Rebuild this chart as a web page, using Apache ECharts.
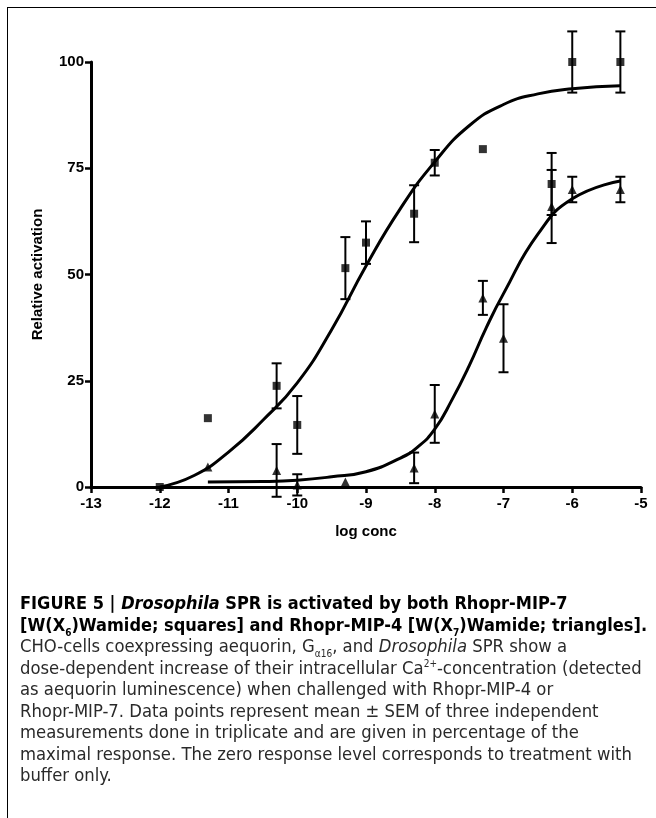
<!DOCTYPE html>
<html lang="en">
<head>
    <meta charset="UTF-8">
    <title>Drosophila SPR dose response</title>
    <script src="https://cdn.jsdelivr.net/npm/echarts@6/dist/echarts.min.js"></script>
    <style>
        body { margin: 0; background: #fff; }
        #frame { position: absolute; left: 7px; top: 7px; width: 660px; height: 830px;
                 border-left: 1.5px solid #000; border-top: 1.5px solid #000; }
        #main { position: absolute; left: 0; top: 0; width: 656px; height: 818px; }
        #caption { position: absolute; left: 20px; top: 592px; font-family: "Liberation Sans Narrow", "DejaVu Sans Condensed", sans-serif;
                   font-size: 18.3px; line-height: 21.5px; color: #2a2a2a; white-space: nowrap; }
        #caption b { color: #000; font-size: 18px; }
        sub, sup { font-size: 10px; line-height: 0; }
    </style>
</head>
<body>
<div id="frame"></div>
<div id="main"></div>
<div id="caption">
    <b>FIGURE 5 | <i>Drosophila</i> SPR is activated by both Rhopr-MIP-7</b><br>
    <b>[W(X<sub>6</sub>)Wamide; squares] and Rhopr-MIP-4 [W(X<sub>7</sub>)Wamide; triangles].</b><br>
    CHO-cells coexpressing aequorin, G<sub>α16</sub>, and <i>Drosophila</i> SPR show a<br>
    dose-dependent increase of their intracellular Ca<sup>2+</sup>-concentration (detected<br>
    as aequorin luminescence) when challenged with Rhopr-MIP-4 or<br>
    Rhopr-MIP-7. Data points represent mean ± SEM of three independent<br>
    measurements done in triplicate and are given in percentage of the<br>
    maximal response. The zero response level corresponds to treatment with<br>
    buffer only.
</div>
<script type="text/javascript">
    // Rhopr-MIP-7 (squares)
    var conc7 = [-12, -11.3, -10.3, -10, -9.3, -9, -8.3, -8, -7.3, -6.3, -6, -5.3];
    var act7 = [0, 16.2, 23.8, 14.6, 51.5, 57.5, 64.3, 76.3, 79.5, 71.3, 100, 100];
    var sem7 = [0, 0, 5.3, 6.8, 7.3, 5, 6.7, 3, 0, 7.3, 7.2, 7.2];
    // Rhopr-MIP-4 (triangles)
    var conc4 = [-11.3, -10.3, -10, -9.3, -8.3, -8, -7.3, -7, -6.3, -6, -5.3];
    var act4 = [4.7, 3.9, 0.5, 1.2, 4.5, 17.2, 44.5, 35, 66, 70, 70];
    var sem4 = [0, 6.2, 2.5, 0, 3.6, 6.8, 4, 8, 8.6, 3, 3];
    // fitted curves
    var fit7X = [-12, -11.5, -11, -10.5, -10, -9.5, -9, -8.5, -8, -7.5, -7, -6.5, -6, -5.3];
    var fit7Y = [0, 2.7, 8.2, 15.7, 24.5, 37, 52, 65.5, 76.5, 85, 90, 92.5, 93.7, 94.4];
    var fit4X = [-11.3, -10.5, -10, -9.5, -9, -8.5, -8.25, -8, -7.75, -7.5, -7.25, -7, -6.5, -6, -5.3];
    var fit4Y = [1.2, 1.3, 1.6, 2.4, 3.6, 6.8, 9.4, 13.6, 20.5, 28.5, 37.5, 45.5, 59.5, 67.8, 72];

    var xTicks = {min: -13, max: -5, step: 1};
    var yTicks = {min: 0, max: 100, step: 25};

    function pairs(xs, ys) {
        return xs.map(function (x, i) { return [x, ys[i]]; });
    }
    function bars(xs, ys, es) {
        var out = [];
        xs.forEach(function (x, i) {
            if (es[i] > 0) out.push([x, ys[i] - es[i], ys[i] + es[i]]);
        });
        return out;
    }

    function renderBar(params, api) {
        var lo = api.coord([api.value(0), api.value(1)]);
        var hi = api.coord([api.value(0), api.value(2)]);
        var w = 5;
        var style = {stroke: '#000', lineWidth: 2};
        return {
            type: 'group',
            children: [
                {type: 'line', shape: {x1: lo[0], y1: lo[1], x2: hi[0], y2: hi[1]}, style: style},
                {type: 'line', shape: {x1: lo[0] - w, y1: lo[1], x2: lo[0] + w, y2: lo[1]}, style: style},
                {type: 'line', shape: {x1: hi[0] - w, y1: hi[1], x2: hi[0] + w, y2: hi[1]}, style: style}
            ]
        };
    }

    var font = '"Liberation Sans", Arial, sans-serif';
    var axisCommon = {
        axisLine: {show: true, lineStyle: {color: '#000', width: 3}},
        axisTick: {show: true, length: 6, lineStyle: {color: '#000', width: 2.5}},
        axisLabel: {color: '#000', fontWeight: 'bold', fontSize: 15, fontFamily: font},
        splitLine: {show: false},
        nameLocation: 'middle',
        nameTextStyle: {color: '#000', fontWeight: 'bold', fontSize: 15, fontFamily: font}
    };

    var myChart = echarts.init(document.getElementById('main'));
    myChart.setOption({
        animation: false,
        grid: {left: 91, right: 15, top: 62, bottom: 331},
        xAxis: Object.assign({}, axisCommon, {
            type: 'value',
            min: xTicks.min, max: xTicks.max, interval: xTicks.step,
            name: 'log conc', nameGap: 37,
            axisLabel: Object.assign({}, axisCommon.axisLabel, {margin: 9})
        }),
        yAxis: Object.assign({}, axisCommon, {
            type: 'value',
            min: yTicks.min, max: yTicks.max, interval: yTicks.step,
            name: 'Relative activation', nameGap: 46,
            axisLabel: Object.assign({}, axisCommon.axisLabel, {margin: 7})
        }),
        series: [{
            type: 'line',
            data: pairs(fit7X, fit7Y),
            smooth: 0.5,
            showSymbol: false,
            lineStyle: {color: '#000', width: 3}
        }, {
            type: 'line',
            data: pairs(fit4X, fit4Y),
            smooth: 0.5,
            showSymbol: false,
            lineStyle: {color: '#000', width: 3}
        }, {
            type: 'custom',
            renderItem: renderBar,
            data: bars(conc7, act7, sem7),
            clip: false
        }, {
            type: 'custom',
            renderItem: renderBar,
            data: bars(conc4, act4, sem4),
            clip: false
        }, {
            type: 'scatter',
            data: pairs(conc7, act7),
            symbol: 'rect',
            symbolSize: 8,
            itemStyle: {color: '#000'},
            z: 5
        }, {
            type: 'scatter',
            data: pairs(conc4, act4),
            symbol: 'triangle',
            symbolSize: 9,
            itemStyle: {color: '#000'},
            z: 5
        }]
    });
</script>
</body>
</html>
